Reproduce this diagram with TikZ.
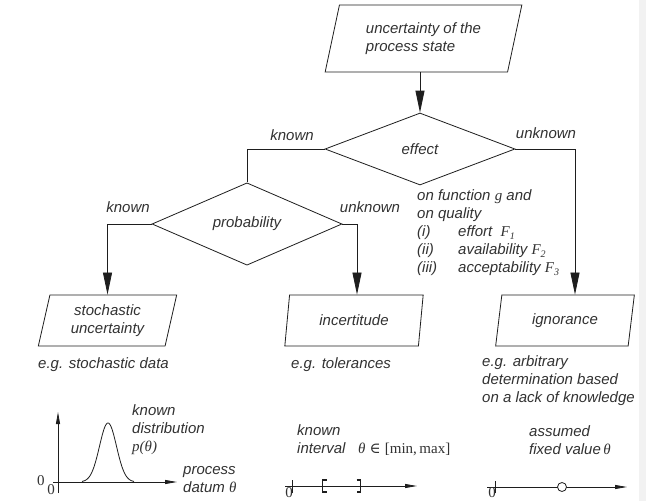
\documentclass[tikz,border=0pt]{standalone}
\usepackage{fontspec}
\setmainfont{Liberation Sans}
\newfontfamily\serifsym{Liberation Serif}
\newfontfamily\dvserif{DejaVu Serif}
\newcommand\mvar[1]{{\serifsym\itshape #1}}
\newcommand\msub[2]{\mvar{#1}\raisebox{-3pt}{\fontsize{10pt}{10pt}\selectfont\serifsym #2}}
\usetikzlibrary{shapes.geometric,arrows.meta,calc}
\definecolor{ink}{RGB}{30,30,30}
\definecolor{txt}{RGB}{50,50,50}
\begin{document}
\begin{tikzpicture}[x=1pt,y=-1pt,
  every node/.style={font=\fontsize{15pt}{18pt}\selectfont\itshape, text=txt, inner sep=0pt},
  line/.style={draw=ink, line width=0.8pt},
  arr/.style={line, -{Triangle[length=22pt,width=9pt]}},
  axis/.style={line, -{Triangle[length=12pt,width=4pt]}},
  box/.style={trapezium, draw=ink, line width=0.8pt, trapezium stretches=true,
    trapezium left angle=77, trapezium right angle=103,
    minimum width=139pt, minimum height=51pt, align=center},
  topbox/.style={box, trapezium left angle=73, trapezium right angle=107,
    minimum width=197pt, minimum height=67pt, align=left},
  decision/.style={diamond, draw=ink, line width=0.8pt, minimum width=190pt, minimum height=72pt},
  lbl/.style={anchor=west, align=left},
  zero/.style={font=\fontsize{15pt}{15pt}\selectfont\serifsym}
]
\fill[white] (0,0) rectangle (646,501);
\fill[black!5] (639,0) rectangle (646,501);
\useasboundingbox (0,0) rectangle (646,501);

% main nodes
\node[topbox] (top) at (423.5,38.5) {uncertainty of the\\process state};
\node[decision] (eff) at (420,149) {effect};
\node[decision] (prob) at (247,224) {probability};
\node[box] (sto) at (107.5,320.5) {stochastic\\uncertainty};
\node[box] (inc) at (354,320.5) {incertitude};
\node[box] (ign) at (565,320.5) {ignorance};

\coordinate (incIn) at ($(inc.north)+(3,0)$);
\coordinate (ignIn) at ($(ign.north)+(10,0)$);

% connectors
\draw[arr] (top.south -| eff.north) -- (eff.north);
\draw[line] (eff.west) -| (prob.north);
\draw[arr] (eff.east) -| (ignIn);
\draw[arr] (prob.west) -| (sto.north);
\draw[arr] (prob.east) -| (incIn);

% branch labels
\node (k1) at (292,135) {known};
\node (u1) at (546,133) {unknown};
\node (k2) at (128,207) {known};
\node (u2) at (370,207) {unknown};

% effect description
\node[lbl] (desc) at (417,233) {on function \mvar{g} and\\on quality\\
\makebox[41pt][l]{(i)}effort\; \msub{F}{1}\\
\makebox[41pt][l]{(ii)}availability \msub{F}{2}\\
\makebox[41pt][l]{(iii)}acceptability \msub{F}{3}};

% examples
\node[lbl] (ex1) at (38,365) {e.g. stochastic data};
\node[lbl] (ex2) at (291,365) {e.g. tolerances};
\node[lbl] (ex3) at (482,381) {e.g. arbitrary\\determination based\\on a lack of knowledge};

% plot 1: distribution
\draw[axis] (58,493) -- (58,412);
\draw[axis] (53,482) -- (177,482);
\draw[line] plot[domain=82:134, samples=80, smooth] (\x,{482-59*exp(-((\x-108)/8.5)^2/2)});
\node[zero] (z1a) at (41,481) {0};
\node[zero] (z1b) at (51,490) {0};
\node[lbl] (d1) at (132,419) {known\\distribution};
\node[lbl] (d2) at (132,448) {\mvar{p}{\serifsym(}\mvar{θ}{\serifsym)}};
\node[lbl] (d3) at (183,479.5) {process\\datum \mvar{θ}};

% plot 2: interval
\draw[axis] (285,486) -- (417,486);
\draw[line] (292,480) -- (292,493);
\draw[ink, line width=1.6pt] (326.5,480) -- (322.5,480) -- (322.5,492) -- (326.5,492);
\draw[ink, line width=1.6pt] (356.5,480) -- (360.5,480) -- (360.5,492) -- (356.5,492);
\node[zero] (z2) at (289,493) {0};
\node[lbl] (i1) at (297,440.5) {known\\interval\;\; \mvar{θ} {\dvserif\upshape ∈} {\serifsym\upshape [min,\,max]}};

% plot 3: fixed value
\draw[axis] (487,487) -- (627,487);
\draw[line] (495,481) -- (495,493);
\draw[line, fill=white] (562,487) circle[radius=4.5pt];
\node[zero] (z3) at (492,493) {0};
\node[lbl] (f1) at (529,440) {assumed\\fixed value\,\mvar{θ}};
\end{tikzpicture}
\end{document}
